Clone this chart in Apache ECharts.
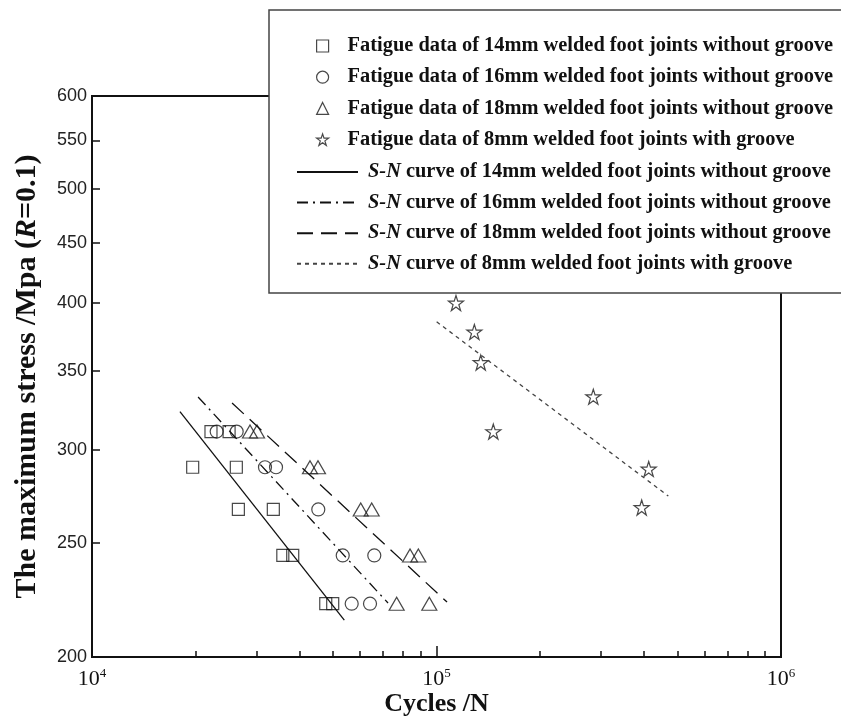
<!DOCTYPE html>
<html>
<head>
<meta charset="utf-8">
<script src="https://cdn.jsdelivr.net/npm/echarts@6/dist/echarts.min.js"></script>
<style>
html,body{margin:0;padding:0;background:#fff;}
#main{width:841px;height:718px;}
</style>
</head>
<body>
<div id="main"></div>
<script>
// ---- data ----
const cycles14 = [22150, 25000, 19600, 26240, 26600, 33600, 35800, 38250, 47700, 49970];
const stress14 = [311, 311, 290, 290, 267, 267, 244, 244, 222, 222];

const cycles16 = [23010, 26300, 31780, 34210, 45380, 53430, 65980, 56730, 64120];
const stress16 = [311, 311, 290, 290, 267, 244, 244, 222, 222];

const cycles18 = [28750, 30130, 42930, 45290, 60260, 64850, 83780, 88570, 76620, 95310];
const stress18 = [311, 311, 290, 290, 267, 267, 244, 244, 222, 222];

const cycles8 = [113900, 128800, 134400, 146200, 285200, 413000, 394100];
const stress8 = [400, 378, 356, 311, 333, 289, 268];

// S-N fitted lines (end points, straight in log-log space)
const curve14N = [18000, 54000];
const curve14S = [323.4, 215.0];
const curve16N = [20320, 72320];
const curve16S = [332.8, 222.3];
const curve18N = [25500, 107300];
const curve18S = [328.9, 222.7];
const curve8N = [100100, 470900];
const curve8S = [385.6, 274.1];

// axis ticks
const xMajorExp = [4, 5, 6];
const xMinorTicks = [2e4, 3e4, 4e4, 5e4, 6e4, 7e4, 8e4, 9e4, 2e5, 3e5, 4e5, 5e5, 6e5, 7e5, 8e5, 9e5];
const yTickLabels = [200, 250, 300, 350, 400, 450, 500, 550, 600];
const yMin = 200, yMax = 600;

const seriesNames = [
  'Fatigue data of 14mm welded foot joints without groove',
  'Fatigue data of 16mm welded foot joints without groove',
  'Fatigue data of 18mm welded foot joints without groove',
  'Fatigue data of 8mm welded foot joints with groove'
];
const curveNames = [
  'S-N curve of 14mm welded foot joints without groove',
  'S-N curve of 16mm welded foot joints without groove',
  'S-N curve of 18mm welded foot joints without groove',
  'S-N curve of 8mm welded foot joints with groove'
];

// ---- build ----
const L = Math.log10;
const pts = (xs, ys) => xs.map((x, i) => [L(x), L(ys[i])]);

const SERIF = 'Liberation Serif';
const SANS = 'Liberation Sans';
const STAR = 'path://M50,2 L61,36 L97,36 L68,57 L79,92 L50,71 L21,92 L32,57 L3,36 L39,36 Z';

const scatterStyle = {color: 'rgba(0,0,0,0)', borderColor: '#1a1a1a', borderWidth: 1.2};

const chart = echarts.init(document.getElementById('main'), null, {renderer: 'canvas'});

const option = {
  backgroundColor: '#fff',
  animation: false,
  grid: {
    left: 92, top: 96, width: 689, height: 561, outerBoundsMode: 'none', containLabel: false,
    show: true, borderColor: '#111', borderWidth: 2, backgroundColor: 'rgba(0,0,0,0)'
  },
  xAxis: [
    {
      type: 'value', min: xMajorExp[0], max: xMajorExp[xMajorExp.length - 1], interval: 1, position: 'bottom',
      axisLine: {show: true, lineStyle: {color: '#111', width: 2}},
      axisTick: {show: true, inside: true, length: 11, lineStyle: {color: '#111', width: 1.5}},
      splitLine: {show: false},
      axisLabel: {
        margin: 10,
        formatter: v => '{b|10}{s|' + Math.round(v) + '}',
        rich: {
          b: {fontFamily: SERIF, fontSize: 22, color: '#111', lineHeight: 24},
          s: {fontFamily: SERIF, fontSize: 13, color: '#111', verticalAlign: 'top', lineHeight: 14}
        }
      },
      name: 'Cycles /N', nameLocation: 'middle', nameGap: 33, nameMoveOverlap: false,
      nameTextStyle: {fontFamily: SERIF, fontWeight: 'bold', fontSize: 26, color: '#111', lineHeight: 28}
    },
    {
      type: 'value', min: xMajorExp[0], max: xMajorExp[xMajorExp.length - 1], interval: 1, position: 'bottom',
      axisLine: {show: false},
      axisTick: {show: true, inside: true, length: 6, customValues: xMinorTicks.map(L), lineStyle: {color: '#111', width: 1.5}},
      axisLabel: {show: false},
      splitLine: {show: false}
    }
  ],
  yAxis: {
    type: 'value', min: L(yMin), max: L(yMax),
    axisLine: {show: true, lineStyle: {color: '#111', width: 2}},
    axisTick: {show: true, inside: true, length: 8, customValues: yTickLabels.map(L), lineStyle: {color: '#111', width: 1.5}},
    splitLine: {show: false},
    axisLabel: {
      margin: 5, customValues: yTickLabels.map(L),
      formatter: v => String(Math.round(Math.pow(10, v))),
      fontFamily: SANS, fontSize: 18, color: '#222'
    },
    name: '{a|The maximum stress /Mpa (}{r|R}{a|=0.1)}',
    nameLocation: 'middle', nameGap: 50, nameMoveOverlap: false,
    nameTextStyle: {
      rich: {
        a: {fontFamily: SERIF, fontWeight: 'bold', fontSize: 30, color: '#111'},
        r: {fontFamily: SERIF, fontWeight: 'bold', fontStyle: 'italic', fontSize: 30, color: '#111'}
      }
    }
  },
  graphic: [{
    type: 'rect', z: 3,
    shape: {x: 269, y: 10, width: 600, height: 283},
    style: {fill: '#fff', stroke: '#444', lineWidth: 1.5}
  }],
  legend: [
    {
      data: seriesNames, orient: 'vertical', left: 316, top: 35, padding: 0,
      itemWidth: 12, itemHeight: 12, itemGap: 9.2, selectedMode: false, z: 5,
      itemStyle: {borderWidth: 1.2},
      textStyle: {fontFamily: SERIF, fontWeight: 'bold', fontSize: 20.4, lineHeight: 22, color: '#111', padding: [0, 0, 0, 14]}
    },
    {
      data: curveNames, orient: 'vertical', left: 296, top: 161, padding: 0,
      itemWidth: 61, itemHeight: 12, itemGap: 8.6, selectedMode: false, z: 5,
      itemStyle: {opacity: 0},
      formatter: n => n.replace('S-N', '{i|S-N}'),
      textStyle: {
        fontFamily: SERIF, fontWeight: 'bold', fontSize: 20.4, lineHeight: 22, color: '#111', padding: [0, 0, 0, 5],
        rich: {i: {fontFamily: SERIF, fontWeight: 'bold', fontStyle: 'italic', fontSize: 20.4, lineHeight: 22, color: '#111'}}
      }
    }
  ],
  series: [
    {name: seriesNames[0], type: 'scatter', symbol: 'rect', symbolSize: 12, itemStyle: scatterStyle, data: pts(cycles14, stress14)},
    {name: seriesNames[1], type: 'scatter', symbol: 'circle', symbolSize: 13, itemStyle: scatterStyle, data: pts(cycles16, stress16)},
    {name: seriesNames[2], type: 'scatter', symbol: 'triangle', symbolSize: [15, 13], itemStyle: scatterStyle, data: pts(cycles18, stress18)},
    {name: seriesNames[3], type: 'scatter', symbol: STAR, symbolSize: 15, itemStyle: scatterStyle, data: pts(cycles8, stress8)},
    {name: curveNames[0], type: 'line', symbol: 'none', color: '#111', lineStyle: {color: '#111', width: 1.3, type: 'solid'}, data: pts(curve14N, curve14S)},
    {name: curveNames[1], type: 'line', symbol: 'none', color: '#111', lineStyle: {color: '#111', width: 1.3, type: [11, 5, 2, 5]}, data: pts(curve16N, curve16S)},
    {name: curveNames[2], type: 'line', symbol: 'none', color: '#111', lineStyle: {color: '#111', width: 1.3, type: [16, 8]}, data: pts(curve18N, curve18S)},
    {name: curveNames[3], type: 'line', symbol: 'none', color: '#444', lineStyle: {color: '#444', width: 1.3, type: [4, 4]}, data: pts(curve8N, curve8S)}
  ]
};
chart.setOption(option);
</script>
</body>
</html>
